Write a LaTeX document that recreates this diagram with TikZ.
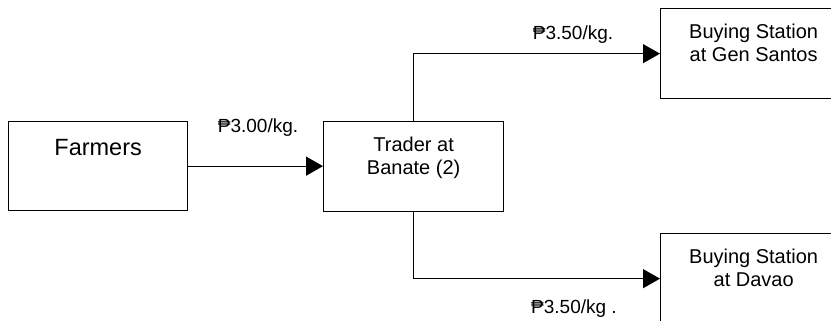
\documentclass[tikz,border=0pt]{standalone}
\usepackage{fontspec}
\setmainfont{Liberation Sans}
\usetikzlibrary{arrows.meta}
\begin{document}
\begin{tikzpicture}[x=1pt,y=-1pt,
  box/.style={draw, line width=1.3pt, inner sep=0pt, anchor=north west},
  conn/.style={line width=1.3pt, -{Triangle[length=17pt,width=19pt]}},
  boxtxt/.style={inner sep=0pt, align=center, font=\fontsize{20}{23}\selectfont},
  lbl/.style={inner sep=0pt, anchor=base, font=\fontsize{19}{22}\selectfont}]
\useasboundingbox (0,0) rectangle (831,321);
\clip (0,0) rectangle (831,321);
% boxes
\node[box, minimum width=179pt, minimum height=89pt] (farmers) at (8,121) {};
\node[box, minimum width=180pt, minimum height=90pt] (trader) at (323,121) {};
\node[box, minimum width=186pt, minimum height=90pt] (gensantos) at (660,8) {};
\node[box, minimum width=186pt, minimum height=90pt] (davao) at (660,233) {};
% box texts
\node[boxtxt, anchor=base, font=\fontsize{23.5}{27}\selectfont] (tfarmers) at (farmers.north |- 0,155) {Farmers};
\node[boxtxt, anchor=north] (ttrader) at (trader.north |- 0,136.4) {Trader at\\Banate (2)};
\node[boxtxt, anchor=north] (tgensantos) at (gensantos.north |- 0,23.4) {Buying Station\\at Gen Santos};
\node[boxtxt, anchor=north] (tdavao) at (davao.north |- 0,248.4) {Buying Station\\at Davao};
% connectors
\draw[conn] (farmers.east) -- (farmers.east -| trader.west);
\draw[conn] (trader.north) |- (gensantos.west);
\draw[conn] (trader.south) |- (davao.west);
% labels
\node[lbl] (l1) at (258,132) {₱3.00/kg.};
\node[lbl] (l2) at (573,40) {₱3.50/kg.};
\node[lbl] (l3) at (574,313) {₱3.50/kg .};
\end{tikzpicture}
\end{document}
